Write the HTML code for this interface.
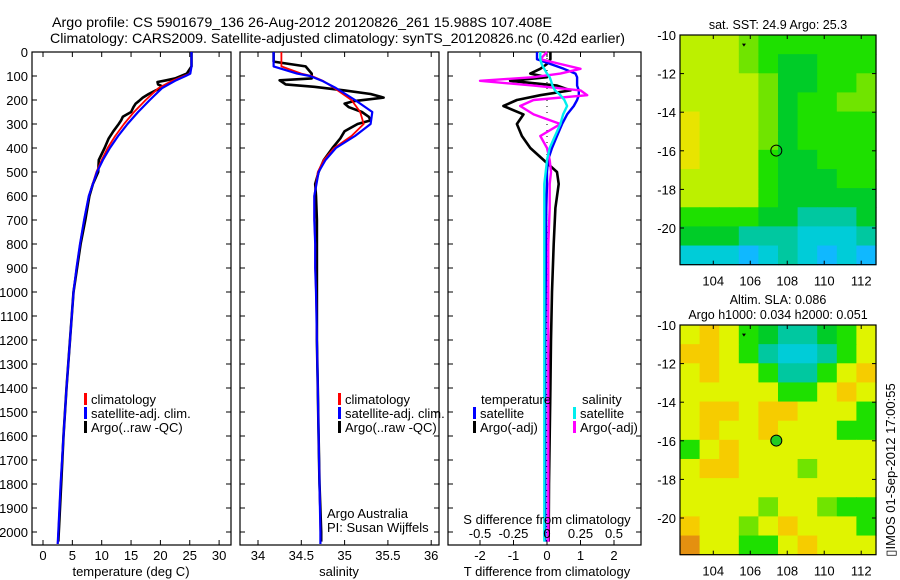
<!DOCTYPE html>
<html><head><meta charset="utf-8"><style>
html,body{margin:0;padding:0;background:#fff;}
svg{display:block;font-family:"Liberation Sans",sans-serif;}
text{fill:#000;}
</style></head><body>
<svg id="fig" width="900" height="580" viewBox="0 0 900 580" xmlns="http://www.w3.org/2000/svg">
<text x="52" y="27" font-size="14" textLength="500" lengthAdjust="spacingAndGlyphs">Argo profile: CS 5901679_136 26-Aug-2012 20120826_261 15.988S 107.408E</text>
<text x="50" y="43" font-size="14" textLength="575" lengthAdjust="spacingAndGlyphs">Climatology: CARS2009. Satellite-adjusted climatology: synTS_20120826.nc (0.42d earlier)</text>
<g id="g"></g>
</svg>
<script>
// ---------- data ----------
const depthClim = [0,60,90,100,120,150,200,250,300,350,400,450,500,600,700,800,900,1000,1200,1400,1600,1800,2000,2050];
const tempClim  = [25.3,25.3,25.0,24.0,22.0,19.7,17.5,15.5,13.8,12.3,11.0,10.0,9.1,7.8,7.0,6.3,5.7,5.2,4.6,4.0,3.5,3.0,2.6,2.5];
const tempSat   = [25.3,25.3,25.1,24.3,22.5,20.3,18.2,16.2,14.4,12.8,11.4,10.2,9.2,7.8,7.0,6.3,5.7,5.2,4.6,4.0,3.5,3.0,2.6,2.5];
const salClim   = [34.27,34.27,34.5,34.62,34.75,34.88,35.08,35.18,35.22,35.08,34.88,34.76,34.69,34.65,34.65,34.66,34.66,34.67,34.68,34.69,34.70,34.71,34.72,34.72];
const salSat    = [34.18,34.18,34.45,34.6,34.74,34.9,35.12,35.32,35.3,35.12,34.9,34.78,34.7,34.65,34.65,34.66,34.66,34.67,34.68,34.69,34.70,34.71,34.72,34.72];
const depthArgo = [0,40,60,90,110,118,125,135,145,160,175,190,205,215,230,250,270,285,300,330,360,400,450,500,550,600,700,800,1000,1200,1400,1600,1800,2000,2040];
const tempArgo  = [25.3,25.3,25.3,24.5,22.5,21.0,19.5,19.6,20.5,19.2,18.0,17.0,16.3,15.8,15.4,15.0,13.6,13.3,12.9,12.0,11.2,10.5,9.5,9.4,8.5,7.9,7.2,6.4,5.2,4.6,4.0,3.5,3.1,2.7,2.6];
const salArgo   = [34.18,34.18,34.55,34.62,34.62,34.25,34.28,34.32,34.65,35.0,35.3,35.45,35.1,35.0,35.05,35.2,35.28,35.3,35.15,35.0,34.95,34.86,34.76,34.7,34.66,34.67,34.68,34.68,34.68,34.68,34.69,34.7,34.71,34.73,34.73];
const depthDiff = [0,30,50,70,90,105,120,140,160,180,200,225,260,300,350,400,450,500,550,650,800,1000,1200,1400,1600,1800,2000,2040];
const dTsat     = [-0.3,-0.3,0.1,0.5,0.85,0.9,0.9,0.9,0.95,0.95,0.9,0.8,0.6,0.45,0.3,0.15,0.03,0.0,0.0,-0.02,-0.03,-0.04,-0.05,-0.05,-0.05,-0.05,-0.05,-0.05];
const dTargo    = [0.1,0.1,0.0,-0.2,-0.5,0.0,-1.1,0.3,0.7,-0.2,-0.9,-1.3,-0.7,-0.9,-0.75,-0.5,-0.1,0.3,0.35,0.25,0.2,0.15,0.12,0.1,0.08,0.06,0.05,0.05];
const dSsat     = [-0.05,-0.05,-0.04,-0.02,0.0,0.02,0.03,0.04,0.06,0.1,0.13,0.15,0.12,0.1,0.06,0.02,0.0,-0.01,-0.02,-0.02,-0.02,-0.02,-0.02,-0.02,-0.02,-0.02,-0.02,-0.02];
const dSargo    = [0.0,-0.05,0.1,0.25,0.1,-0.1,-0.5,-0.1,0.25,0.3,-0.1,-0.2,-0.1,0.1,-0.05,0.0,0.02,0.03,0.02,0.02,0.01,0.01,0.01,0.01,0.01,0.01,0.01,0.01];
const depthTicks = [0,100,200,300,400,500,600,700,800,900,1000,1100,1200,1300,1400,1500,1600,1700,1800,1900,2000];
const tempTicks = [0,5,10,15,20,25,30];
const salTicks = [34,34.5,35,35.5,36];
const salTickLabels = ["34","34.5","35","35.5","36"];
const dTTicks = [-2,-1,0,1,2];
const dSTicks = [-0.5,-0.25,0,0.25,0.5];
const dSTickLabels = ["-0.5","-0.25","0","0.25","0.5"];
const lonTicks = [104,106,108,110,112];
const latTicks = [-10,-12,-14,-16,-18,-20];
// map colour grids (rows from -10 southwards, cols from 102.2 eastwards)
const sstGrid = [
"YYYLGGGGGG","YYYLGDDGGG","YYYYLDDGGL","YYYYLDGGLL","OYYYLDGGGG","OYYYLDGGGG",
"OYYYGDDGGG","YYYYGDDDGG","YYYYGDDDDD","GGGGDDTTTD","DDDTTTCCCT","CCCBCTCBCB"];
const slaGrid = [
"yoyGDTTDGy","ooyGTCCTGy","yoyyGTTGyo","yyyyyGGyoy","yooyooyyyG","yoyyoyyyGG",
"Gyoyyyyyyy","yooyyyLyyy","yyyyyyyyyy","yyyyLyyLGG","oyyLyoyyyG","ryyGGyoyyy"];
const cellColors = {Y:"#bcf000",O:"#e8e400",L:"#70e400",G:"#1ee000",D:"#00cc28",T:"#00c8a0",C:"#00ccd8",B:"#10b8ff",
 y:"#e0f400",o:"#f6cc00",r:"#e49010"};
const argoLon = 107.408, argoLat = -15.988;

// ---------- helpers ----------
const NS="http://www.w3.org/2000/svg";
const G=document.getElementById('g');
function mk(tag,attrs,parent){const e=document.createElementNS(NS,tag);for(const k in attrs)e.setAttribute(k,attrs[k]);(parent||G).appendChild(e);return e;}
function txt(x,y,s,size,anchor,parent){const t=mk('text',{x:x,y:y,'font-size':size||13,'text-anchor':anchor||'start'},parent);t.textContent=s;return t;}
const yTop=52, yBot=545;
const yD = d => yTop + d*0.24;
const xT = t => 43 + t*5.87;
const xS = s => 258 + (s-34)*86.6;
const xDT = v => 547 + v*33.5;
const xDS = v => 547 + v*134;

function panel(x0,x1,name,ticksFn,tickVals,labels){
  const g=mk('g',{});
  
  
  mk('rect',{x:x0,y:yTop,width:x1-x0,height:yBot-yTop,fill:'#fff',stroke:'#000','stroke-width':1.2},g);
  depthTicks.forEach(d=>{mk('line',{x1:x0,x2:x0+5,y1:yD(d),y2:yD(d),stroke:'#000'},g);mk('line',{x1:x1-5,x2:x1,y1:yD(d),y2:yD(d),stroke:'#000'},g);});
  tickVals.forEach((v,i)=>{const x=ticksFn(v);mk('line',{x1:x,x2:x,y1:yBot-5,y2:yBot,stroke:'#000'},g);mk('line',{x1:x,x2:x,y1:yTop,y2:yTop+5,stroke:'#000'},g);
    if(labels) { const t=txt(x,560,labels[i],13,'middle',g);   }});
  return g;
}
function line(depths,vals,xf,color,w,name){
  const p=depths.map((d,i)=>xf(vals[i]).toFixed(1)+','+yD(d).toFixed(1)).join(' ');
  const e=mk('polyline',{points:p,fill:'none',stroke:color,'stroke-width':w,'stroke-linejoin':'round'});
  
  
}
function legend(x,y,color,label){
  mk('rect',{x:x,y:y-11,width:3,height:12,fill:color});
  const t=txt(x+7,y,label,13);
  
  
}

// ---------- panel 1: temperature ----------
panel(32,231,'temperature-panel',xT,tempTicks,tempTicks.map(String));
depthTicks.forEach(d=>{const t=txt(28,yD(d)+5,String(d),13,'end');});
line(depthArgo,tempArgo,xT,'#000',2.6,'temp-argo-line');
line(depthClim,tempClim,xT,'#f00',1.8,'temp-climatology-line');
line(depthClim,tempSat,xT,'#00f',2.2,'temp-satellite-line');
legend(84,404,'#f00','climatology');legend(84,418,'#00f','satellite-adj. clim.');legend(84,432,'#000','Argo(..raw -QC)');
let t1=txt(131,576,'temperature (deg C)',13,'middle');

// ---------- panel 2: salinity ----------
panel(240,439,'salinity-panel',xS,salTicks,salTickLabels);
line(depthArgo,salArgo,xS,'#000',2.6,'sal-argo-line');
line(depthClim,salClim,xS,'#f00',1.8,'sal-climatology-line');
line(depthClim,salSat,xS,'#00f',2.2,'sal-satellite-line');
legend(338,404,'#f00','climatology');legend(338,418,'#00f','satellite-adj. clim.');legend(338,432,'#000','Argo(..raw -QC)');
let t2=txt(327,518,'Argo Australia',13);
let t3=txt(327,532,'PI: Susan Wijffels',13);
let t4=txt(339,576,'salinity',13,'middle');

// ---------- panel 3: differences ----------
panel(448,641,'difference-panel',xDT,dTTicks,dTTicks.map(String));
for(let d=0;d<=2000;d+=25){mk('rect',{x:546.5,y:yD(d),width:1,height:1,fill:'#000'});}
line(depthDiff,dTargo,xDT,'#000',2.6,'dT-argo-line');
line(depthDiff,dTsat,xDT,'#00f',2.4,'dT-satellite-line');
line(depthDiff,dSargo,xDS,'#f0f',2.4,'dS-argo-line');
line(depthDiff,dSsat,xDS,'#0ee',2.4,'dS-satellite-line');
let t5=txt(481,404,'temperature',13);
let t6=txt(582,404,'salinity',13);
legend(473,418,'#00f','satellite');legend(473,432,'#000','Argo(-adj)');
legend(573,418,'#0ee','satellite');legend(573,432,'#f0f','Argo(-adj)');
let t7=txt(547,524,'S difference from climatology',13,'middle');
dSTicks.forEach((v,i)=>{const t=txt(xDS(v),538,dSTickLabels[i],13,'middle');});
let t8=txt(547,576,'T difference from climatology',13,'middle');

// ---------- maps ----------
function map(y0,grid,name,titles){
  const x0=680,x1=876,lonMin=102.2,lonMax=112.8,latMin=-21.9;
  const xL=l=>x0+(l-lonMin)/(lonMax-lonMin)*(x1-x0);
  const yL=a=>y0+(-10-a)*19.3;
  const yb=yL(latMin);
  const g=mk('g',{});
  
  
  const rows=grid.length, cols=grid[0].length;
  const cw=(x1-x0)/cols, ch=(yb-y0)/rows;
  for(let r=0;r<rows;r++)for(let c=0;c<cols;c++){
    mk('rect',{x:x0+c*cw,y:y0+r*ch,width:cw+0.6,height:ch+0.6,fill:cellColors[grid[r][c]]},g);
  }
  mk('rect',{x:x0,y:y0,width:x1-x0,height:yb-y0,fill:'none',stroke:'#000','stroke-width':1.2},g);
  lonTicks.forEach(l=>{const x=xL(l);mk('line',{x1:x,x2:x,y1:y0,y2:y0+4,stroke:'#000'},g);mk('line',{x1:x,x2:x,y1:yb-4,y2:yb,stroke:'#000'},g);
    const t=txt(x,yb+21,String(l),13,'middle',g);});
  latTicks.forEach(a=>{const y=yL(a);mk('line',{x1:x0,x2:x0+4,y1:y,y2:y,stroke:'#000'},g);mk('line',{x1:x1-4,x2:x1,y1:y,y2:y,stroke:'#000'},g);
    const t=txt(676,y+5,String(a),13,'end',g);});
  const m=mk('circle',{cx:xL(argoLon),cy:yL(argoLat),r:5.5,fill:name==='sla-map'?'#22cc22':'none',stroke:'#000','stroke-width':1},g);
  
  
  mk('path',{d:`M${xL(105.55)} ${yL(-10.45)} l4 0 l-2 3 z`,fill:'#000'},g);
  titles.forEach((s,i)=>{const t=txt(778,y0-6-(titles.length-1-i)*15,s,12.5,'middle',g);});
}
map(35,sstGrid,'sst-map',['sat. SST: 24.9 Argo: 25.3']);
map(325,slaGrid,'sla-map',['Altim. SLA: 0.086','Argo h1000: 0.034 h2000: 0.051']);
let ts=txt(0,0,'\u25AFIMOS 01-Sep-2012 17:00:55',13,'middle');
ts.setAttribute('transform','translate(895,470) rotate(-90)');


</script>
</body></html>
